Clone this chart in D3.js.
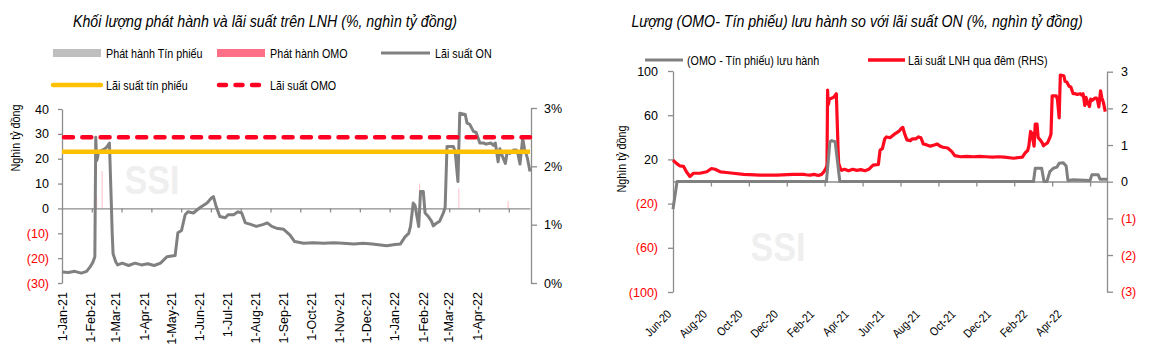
<!DOCTYPE html>
<html><head><meta charset="utf-8">
<script src="https://cdn.jsdelivr.net/npm/d3@7"></script>
<style>
body{margin:0;background:#fff}
svg text{font-family:"Liberation Sans",Arial,sans-serif}
</style></head><body>
<svg id="c" width="1151" height="357"></svg>
<script>
// ---------- DATA ----------
// Overnight interbank rate (Lãi suất ON / Lãi suất LNH qua đêm), %
const onDates = ["2020-05-18","2020-05-24","2020-05-30","2020-06-05","2020-06-10","2020-06-16","2020-06-22","2020-07-03","2020-07-15","2020-07-23","2020-07-29","2020-08-07","2020-08-18","2020-08-29","2020-09-16","2020-10-14","2020-11-12","2020-12-10","2020-12-28",
"2021-01-01","2021-01-08","2021-01-15","2021-01-22","2021-01-28","2021-02-01","2021-02-04","2021-02-06","2021-02-07","2021-02-08","2021-02-09","2021-02-10","2021-02-17","2021-02-19","2021-02-22","2021-02-24","2021-02-25","2021-02-26","2021-03-01","2021-03-03","2021-03-08","2021-03-15","2021-03-22","2021-03-29","2021-04-05","2021-04-12","2021-04-19","2021-04-26","2021-05-05","2021-05-08","2021-05-12","2021-05-16","2021-05-19","2021-05-25","2021-06-01","2021-06-09","2021-06-14","2021-06-16","2021-06-19","2021-06-23","2021-06-29","2021-07-02","2021-07-08","2021-07-13","2021-07-17","2021-07-21","2021-07-26","2021-08-02","2021-08-09","2021-08-14","2021-08-19","2021-08-24","2021-09-01","2021-09-08","2021-09-13","2021-09-23","2021-10-03","2021-10-15","2021-10-26","2021-11-05","2021-11-17","2021-11-27","2021-12-07","2021-12-23",
"2022-01-01","2022-01-07","2022-01-12","2022-01-16","2022-01-18","2022-01-21","2022-01-23","2022-01-27","2022-01-29","2022-02-01","2022-02-03","2022-02-06","2022-02-10","2022-02-12","2022-02-15","2022-02-19","2022-02-23","2022-02-25","2022-02-27","2022-03-06","2022-03-08","2022-03-11","2022-03-13","2022-03-19","2022-03-21","2022-03-24","2022-03-28","2022-03-31","2022-04-04","2022-04-08","2022-04-11","2022-04-16","2022-04-19","2022-04-21","2022-04-24","2022-04-26","2022-04-28","2022-05-02","2022-05-04","2022-05-07","2022-05-11","2022-05-14","2022-05-16","2022-05-18","2022-05-21","2022-05-23","2022-05-26","2022-05-29"];
const onRates = [0.59,0.50,0.43,0.42,0.27,0.14,0.23,0.23,0.27,0.36,0.34,0.27,0.25,0.23,0.20,0.18,0.18,0.20,0.20,
0.19,0.18,0.20,0.17,0.20,0.28,0.36,0.45,2.50,2.10,2.15,2.25,2.30,2.33,2.40,1.40,0.86,0.50,0.36,0.31,0.34,0.30,0.34,0.31,0.33,0.30,0.34,0.45,0.47,0.86,0.90,1.17,1.22,1.20,1.29,1.37,1.46,1.48,1.31,1.14,1.12,1.17,1.17,1.22,1.20,1.03,1.01,0.97,1.00,1.03,0.97,0.94,0.92,0.82,0.71,0.68,0.69,0.68,0.69,0.68,0.67,0.68,0.67,0.64,
0.66,0.67,0.79,0.85,0.97,1.37,1.33,0.97,1.57,1.57,1.20,1.15,1.06,0.98,1.02,1.06,1.20,1.30,2.34,2.34,2.25,1.74,2.91,2.89,2.74,2.72,2.60,2.58,2.40,2.40,2.38,2.40,2.36,2.40,2.08,2.30,2.20,2.05,2.25,2.22,2.28,2.28,2.20,2.04,2.48,2.30,2.15,1.91];

// OMO issuance (Phát hành OMO), thousand bn VND
const omoIssueDates = ["2021-02-08","2021-02-14","2022-01-28","2022-03-12","2022-05-05"];
const omoIssueValues = [5,15,10,8,3];
// T-bill issuance (Phát hành Tín phiếu) – no visible volume in period
const tinPhieuIssueDates = [];
const tinPhieuIssueValues = [];

// Policy rates, %
const omoRate = 2.5;
const tinPhieuRate = 2.25;

// (OMO - Tín phiếu) outstanding, thousand bn VND
const netDates = ["2020-05-18","2020-05-25","2021-02-05","2021-02-11","2021-02-14","2021-02-20","2021-02-28","2022-01-26","2022-01-29","2022-02-09","2022-02-13","2022-02-18","2022-02-23","2022-03-01","2022-03-07","2022-03-11","2022-03-18","2022-03-23","2022-03-26","2022-04-04","2022-05-03","2022-05-06","2022-05-17","2022-05-20","2022-06-01"];
const netValues = [-25,0,0,36,37,36,0,0,12,12,0,0,9,12,13,16.6,17,14,1,1.5,1,6,6,2,2];

// Tick labels
const leftYTicks = [-30,-20,-10,0,10,20,30,40];
const leftRTicks = [0,1,2,3];
const rightYTicks = [-100,-60,-20,20,60,100];
const rightRTicks = [-3,-2,-1,0,1,2,3];

// ---------- DRAW ----------
const svg = d3.select("#c");
const parse = d3.timeParse("%Y-%m-%d");
const on = onDates.map((d,i)=>({date:parse(d), v:onRates[i]}));
const net = netDates.map((d,i)=>({date:parse(d), v:netValues[i]}));
const omoIssue = omoIssueDates.map((d,i)=>({date:parse(d), v:omoIssueValues[i]}));
const paren = d => d < 0 ? "(" + Math.abs(d) + ")" : String(d);
const GRAY = "#808080", AX = "#8c8c8c", RED = "#ff0000";
const NARROW = 0.86;

// condensed text via horizontal scale
function ntext(parent, x, y, str, size, opts = {}){
  const rot = opts.rotate ? ` rotate(${opts.rotate})` : "";
  const t = parent.append("text")
    .attr("transform", `translate(${x},${y})${rot} scale(${opts.f || NARROW},1)`)
    .attr("font-size", size).text(str);
  if (opts.anchor) t.attr("text-anchor", opts.anchor);
  if (opts.italic) t.attr("font-style", "italic");
  if (opts.bold) t.attr("font-weight", "bold");
  if (opts.fill) t.attr("fill", opts.fill);
  return t;
}
function styleAxis(g, negRed){
  g.select(".domain").attr("stroke", AX).attr("stroke-width", 1.3);
  g.selectAll(".tick line").attr("stroke", AX).attr("stroke-width", 1.3);
  g.selectAll(".tick text").attr("font-size", 12.5).attr("fill", d => (negRed && d < 0) ? RED : "#000");
}

// ======== LEFT CHART ========
const xL = d3.scaleTime().domain([parse("2021-01-01"), parse("2022-05-29")]).range([62, 530]);
const yL = d3.scaleLinear().domain([-30, 40]).range([283, 109]);
const yLr = d3.scaleLinear().domain([0, 3]).range([283, 108]);

ntext(svg, 265, 27, "Khối lượng phát hành và lãi suất trên LNH (%, nghìn tỷ đồng)", 16.5, {anchor: "middle", italic: true});

// watermark
ntext(svg, 152, 194, "SSI", 40, {anchor: "middle", bold: true, fill: "#efefef", f: 0.85});

// axes
svg.append("g").attr("transform", "translate(62,0)")
  .call(d3.axisLeft(yL).tickValues(leftYTicks).tickFormat(paren).tickSize(4).tickSizeOuter(0).tickPadding(9))
  .call(g => styleAxis(g, true));
svg.append("g").attr("transform", "translate(531,0)")
  .call(d3.axisRight(yLr).tickValues(leftRTicks).tickFormat(d => d + "%").tickSize(6).tickSizeOuter(0).tickPadding(7))
  .call(g => styleAxis(g, false));

// zero line with ticks
svg.append("g").attr("transform", `translate(0,${yL(0)})`)
  .call(d3.axisBottom(xL).tickValues(d3.range(1, 16).map(k => d3.timeHour.offset(xL.domain()[0], Math.round(k * 32.65 * 24)))).tickFormat("").tickSize(4).tickSizeOuter(0))
  .call(g => styleAxis(g, false));

// x labels (monthly)
const monthsL = d3.timeMonth.range(parse("2021-01-01"), parse("2022-04-02"));
svg.append("g").selectAll("text").data(monthsL).join("text")
  .attr("transform", d => `translate(${xL(d) + 4.5},292) rotate(-90)`)
  .attr("text-anchor", "end").attr("font-size", 12.5)
  .text(d3.timeFormat("%-d-%b-%y"));

ntext(svg, 20, 138, "Nghìn tỷ đồng", 12, {anchor: "middle", rotate: -90, f: 0.9});

// bars
svg.append("g").selectAll("rect").data(omoIssue).join("rect")
  .attr("x", d => xL(d.date) - 0.5).attr("width", 1)
  .attr("y", d => yL(d.v)).attr("height", d => yL(0) - yL(d.v))
  .attr("fill", "#ff6f87").attr("opacity", 0.45);

// ON line
const lineL = d3.line().x(d => xL(d.date)).y(d => yLr(d.v));
svg.append("path").datum(on.filter(d => d.date >= xL.domain()[0]))
  .attr("d", lineL).attr("fill", "none").attr("stroke", GRAY).attr("stroke-width", 3).attr("stroke-linejoin", "round");

// policy rate lines
svg.append("line").attr("x1", xL.range()[0]).attr("x2", xL.range()[1])
  .attr("y1", yLr(tinPhieuRate)).attr("y2", yLr(tinPhieuRate))
  .attr("stroke", "#ffc000").attr("stroke-width", 4.5);
svg.append("line").attr("x1", xL.range()[0] + 2).attr("x2", xL.range()[1])
  .attr("y1", yLr(omoRate)).attr("y2", yLr(omoRate))
  .attr("stroke", "#ff0022").attr("stroke-width", 4.5).attr("stroke-linecap", "round").attr("stroke-dasharray", "9 9.3");

// legend left
const lg = svg.append("g");
lg.append("rect").attr("x", 53).attr("y", 49).attr("width", 48).attr("height", 8).attr("fill", "#bfbfbf");
ntext(lg, 106, 58, "Phát hành Tín phiếu", 12.5);
lg.append("rect").attr("x", 217).attr("y", 49).attr("width", 48).attr("height", 8).attr("fill", "#ff6f87");
ntext(lg, 270, 58, "Phát hành OMO", 12.5);
lg.append("line").attr("x1", 381).attr("x2", 430).attr("y1", 53).attr("y2", 53).attr("stroke", GRAY).attr("stroke-width", 3);
ntext(lg, 435, 58, "Lãi suất ON", 12.5);
lg.append("line").attr("x1", 53).attr("x2", 101).attr("y1", 85).attr("y2", 85).attr("stroke", "#ffc000").attr("stroke-width", 4.5).attr("stroke-linecap", "round");
ntext(lg, 106, 90, "Lãi suất tín phiếu", 12.5);
lg.append("line").attr("x1", 219).attr("x2", 261).attr("y1", 85).attr("y2", 85).attr("stroke", "#ff0022").attr("stroke-width", 4.5).attr("stroke-linecap", "round").attr("stroke-dasharray", "7 9.5");
ntext(lg, 270, 90, "Lãi suất OMO", 12.5);

// ======== RIGHT CHART ========
const xR = d3.scaleTime().domain([parse("2020-05-18"), parse("2022-06-01")]).range([673, 1107]);
const yRL = d3.scaleLinear().domain([-100, 100]).range([292, 71]);
const yRR = d3.scaleLinear().domain([-3, 3]).range([291.7, 71.7]);

ntext(svg, 857, 27, "Lượng (OMO- Tín phiếu) lưu hành so với lãi suất ON (%, nghìn tỷ đồng)", 16.5, {anchor: "middle", italic: true});

ntext(svg, 778, 261, "SSI", 40, {anchor: "middle", bold: true, fill: "#efefef", f: 0.85});

svg.append("g").attr("transform", "translate(673,0)")
  .call(d3.axisLeft(yRL).tickValues(rightYTicks).tickFormat(paren).tickSize(5).tickSizeOuter(0).tickPadding(10))
  .call(g => styleAxis(g, true));
svg.append("g").attr("transform", "translate(1107,0)")
  .call(d3.axisRight(yRR).tickValues(rightRTicks).tickFormat(paren).tickSize(6).tickSizeOuter(0).tickPadding(8))
  .call(g => styleAxis(g, true));

svg.append("g").attr("transform", `translate(0,${yRL(0)})`)
  .call(d3.axisBottom(xR).tickValues(d3.range(1, 12).map(k => d3.timeDay.offset(xR.domain()[0], k * 65))).tickFormat("").tickSize(5).tickSizeOuter(0))
  .call(g => styleAxis(g, false));

const monthsR = d3.timeMonth.range(parse("2020-06-01"), parse("2022-04-02"), 2);
const fmtR = d3.timeFormat("%b-%y");
const xlabR = svg.append("g");
monthsR.forEach(d => ntext(xlabR, xR(d) - 9, 315, fmtR(d), 12, {anchor: "end", rotate: -45}));

ntext(svg, 626, 159, "Nghìn tỷ đồng", 12, {anchor: "middle", rotate: -90, f: 0.9});

const lineRR = d3.line().x(d => xR(d.date)).y(d => yRR(d.v));
const lineRL = d3.line().x(d => xR(d.date)).y(d => yRL(d.v));
svg.append("path").datum(on).attr("d", lineRR).attr("fill", "none")
  .attr("stroke", "#ff0a1e").attr("stroke-width", 3.2).attr("stroke-linejoin", "round");
svg.append("path").datum(net).attr("d", lineRL).attr("fill", "none")
  .attr("stroke", GRAY).attr("stroke-width", 3).attr("stroke-linejoin", "round");

const lr = svg.append("g");
lr.append("line").attr("x1", 645).attr("x2", 683).attr("y1", 60).attr("y2", 60).attr("stroke", GRAY).attr("stroke-width", 3);
ntext(lr, 687, 65, "(OMO - Tín phiếu) lưu hành", 12.5);
lr.append("line").attr("x1", 868).attr("x2", 905).attr("y1", 60).attr("y2", 60).attr("stroke", "#ff0a1e").attr("stroke-width", 3.5);
ntext(lr, 908, 65, "Lãi suất LNH qua đêm (RHS)", 12.5);
</script>
</body></html>
